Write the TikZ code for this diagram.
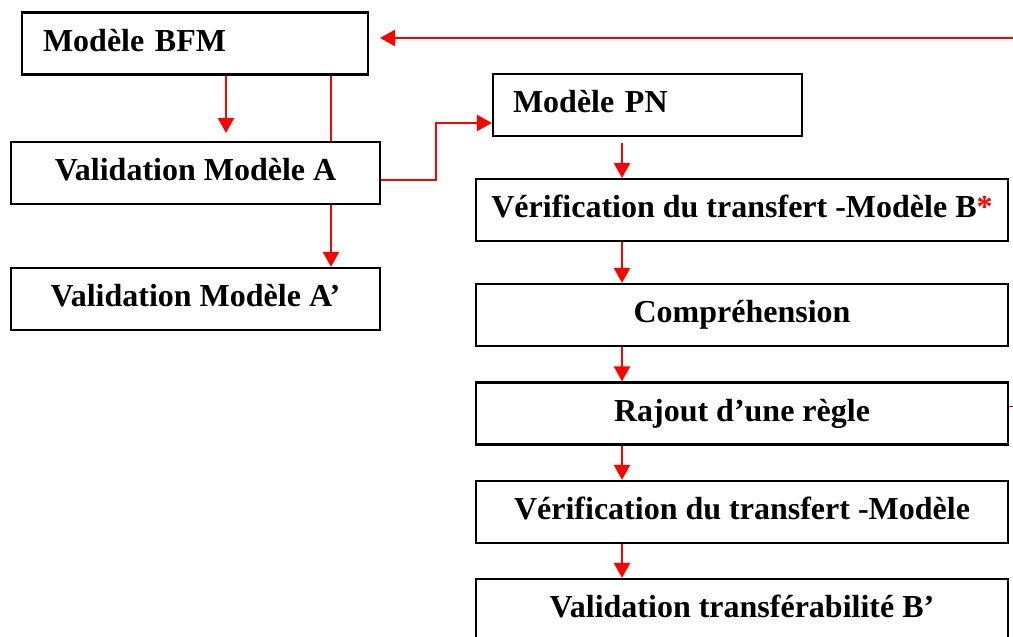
\documentclass[tikz,border=0pt]{standalone}
\usepackage{fontspec}
\setmainfont{Liberation Serif}
\usetikzlibrary{arrows.meta}
\definecolor{arrred}{RGB}{255,0,0}
\tikzset{
  box/.style={draw=black, line width=2.2pt, minimum height=62pt, inner sep=0pt,
    font=\fontsize{32}{36}\selectfont\bfseries, text height=22pt, text depth=7pt},
  leftbox/.style={box, align=left},
  link/.style={draw=arrred, line width=2.3pt},
  arr/.style={link, -{Triangle[width=16pt,length=15pt]}}
}
\begin{document}
\begin{tikzpicture}[x=1pt,y=-1pt]
\useasboundingbox (0,0) rectangle (1013,637);
\clip (0,0) rectangle (1013,637);
% left column
\node[leftbox, minimum width=346pt, text width=304pt] (bfm) at (195,43.5) {Modèle BFM};
\node[box, minimum width=369pt] (va) at (195.5,173) {Validation Modèle A};
\node[box, minimum width=369pt] (vap) at (195.5,299) {Validation Modèle A’};
% right column
\node[leftbox, minimum width=309pt, text width=269pt] (pn) at (647.5,105) {Modèle PN};
\node[box, minimum width=532pt] (vb) at (742,210) {Vérification du transfert -Modèle B\textcolor{arrred}{*}};
\node[box, minimum width=532pt] (comp) at (742,315) {Compréhension};
\node[box, minimum width=532pt] (raj) at (742,413.5) {Rajout d’une règle};
\node[box, minimum width=532pt] (vm) at (742,512) {Vérification du transfert -Modèle};
\node[box, minimum width=532pt] (vtb) at (742,610) {Validation transférabilité B’};
% coordinates
\coordinate (topin) at (1013,38);
\coordinate (topend) at (380,38);
\coordinate (bfmA) at (226,133);
\coordinate (bend1) at (436,180);
\coordinate (bend2) at (436,123);
\coordinate (pnout) at (622,143);
\coordinate (vbin) at (622,178);
\coordinate (tick) at (1013,406);
% connectors
\draw[arr] (topin) -- (topend);
\draw[arr] (bfm.south -| bfmA) -- (bfmA);
\draw[link] (bfm.south -| 331,0) -- (va.north -| 331,0);
\draw[arr] (va.south -| 331,0) -- (vap.north -| 331,0);
\draw[arr] (va.east |- bend1) -- (bend1) -- (bend2) -- (pn.west |- bend2);
\draw[arr] (pnout) -- (vbin);
\draw[arr] (vb.south -| pnout) -- (comp.north -| pnout);
\draw[arr] (comp.south -| pnout) -- (raj.north -| pnout);
\draw[arr] (raj.south -| pnout) -- (vm.north -| pnout);
\draw[arr] (vm.south -| pnout) -- (vtb.north -| pnout);
\draw[draw=arrred, line width=0.8pt] (raj.east |- tick) -- (tick);
\end{tikzpicture}
\end{document}
